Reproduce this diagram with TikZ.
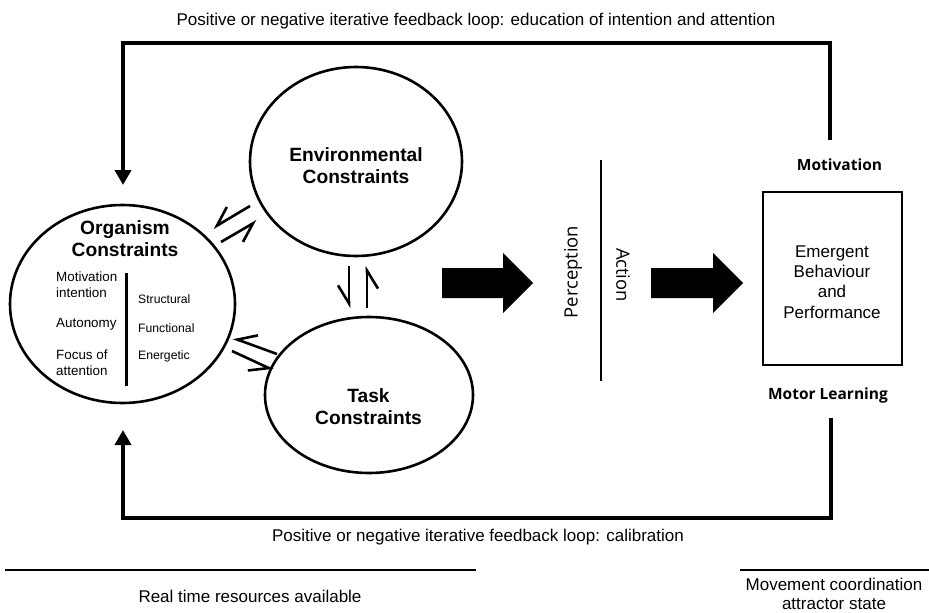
\documentclass[tikz,border=0pt]{standalone}
\usepackage{fontspec}
\setmainfont{Liberation Sans}
\newfontfamily\osans{Open Sans}
\usetikzlibrary{arrows.meta}
\begin{document}
\begin{tikzpicture}[x=1pt,y=-1pt,
  title/.style={font=\fontsize{19.2}{22}\selectfont\bfseries,align=center},
  small/.style={font=\fontsize{13.4}{16}\selectfont,anchor=west,inner sep=0pt},
  smaller/.style={font=\fontsize{12.2}{15}\selectfont,anchor=west,inner sep=0pt},
  lbl/.style={font=\fontsize{17}{19}\selectfont,inner sep=0pt},
  loopar/.style={line width=4pt,-{Triangle[length=15pt,width=16pt]}},
  harp/.style={line width=2.6pt,-{Straight Barb[harpoon,swap,length=18pt,width=22pt]}},
  block/.style={fill=black}
]
\useasboundingbox (0,0) rectangle (929,613);
\fill[white] (0,0) rectangle (929,613);

% circles
\draw[line width=2.6pt] (122.5,304) ellipse [x radius=112.5,y radius=99];
\draw[line width=2.6pt] (356,161.5) ellipse [x radius=106,y radius=94.5];
\draw[line width=2.6pt] (369,395) ellipse [x radius=104,y radius=78];
\node (org) at (122.5,304) {};
\node (env) at (356,161.5) {};
\node (task) at (369,395) {};

% titles
\node[title] (orgt) at (125,239) {Organism\\Constraints};
\node[title] (envt) at (356,166) {Environmental\\Constraints};
\node[title] (taskt) at (368.5,407) {Task\\Constraints};

% organism inner
\draw[line width=2.6pt] (126.5,273) -- (126.5,386);
\node[small] (mot) at (56,277) {Motivation};
\node[small] (int) at (56,293) {intention};
\node[small] (aut) at (56,324) {Autonomy};
\node[small] (foc) at (56,355) {Focus of};
\node[small] (att) at (56,371) {attention};
\node[smaller] (str) at (138,299) {Structural};
\node[smaller] (fun) at (138,328) {Functional};
\node[smaller] (ene) at (138,356) {Energetic};

% harpoons
\coordinate (h1a) at (250,206); \coordinate (h1b) at (213,228);
\coordinate (h2a) at (221,242); \coordinate (h2b) at (257,221);
\coordinate (h3a) at (349,266); \coordinate (h3b) at (349,308);
\coordinate (h4a) at (367,308); \coordinate (h4b) at (367,266);
\coordinate (h5a) at (277,354); \coordinate (h5b) at (233,338);
\coordinate (h6a) at (232,351); \coordinate (h6b) at (273,370);
\draw[harp] (h1a) -- (h1b);
\draw[harp] (h2a) -- (h2b);
\draw[harp] (h3a) -- (h3b);
\draw[harp] (h4a) -- (h4b);
\draw[harp] (h5a) -- (h5b);
\draw[harp] (h6a) -- (h6b);

% block arrows
\fill[block] (442,268) -- (503,268) -- (503,253) -- (533,283) -- (503,313) -- (503,298) -- (442,298) -- cycle;
\fill[block] (651,268) -- (713,268) -- (713,253) -- (743,283) -- (713,313) -- (713,298) -- (651,298) -- cycle;

% perception / action
\draw[line width=2.6pt] (601,160) -- (601,381);
\node[font=\osans\fontsize{18.4}{21}\selectfont,rotate=90] (perc) at (573,272) {Perception};
\node[font=\osans\fontsize{18.4}{21}\selectfont,rotate=-90] (act) at (623,275) {Action};

% box
\node[draw,line width=2.6pt,minimum width=139pt,minimum height=173pt,inner sep=0pt] (box) at (832.5,278.5) {};
\node[font=\fontsize{17}{20.3}\selectfont,align=center] (boxt) at (832,282) {Emergent\\Behaviour\\and\\Performance};
\node[font=\osans\fontsize{15.5}{18}\selectfont\bfseries] (motv) at (839.5,165) {Motivation};
\node[font=\osans\fontsize{15.5}{18}\selectfont\bfseries] (motl) at (828,395) {Motor Learning};

% feedback loops
\coordinate (t1) at (830,140);
\coordinate (t2) at (830,43);
\coordinate (t3) at (123,43);
\coordinate (t4) at (123,185);
\draw[loopar] (t1) -- (t2) -- (t3) -- (t4);
\coordinate (b1) at (831,418);
\coordinate (b2) at (831,518);
\coordinate (b3) at (123,518);
\coordinate (b4) at (123,430);
\draw[loopar] (b1) -- (b2) -- (b3) -- (b4);
\node[lbl] (toplbl) at (476,21) {Positive or negative iterative feedback loop: education of intention and attention};
\node[lbl] (botlbl) at (478,537) {Positive or negative iterative feedback loop: calibration};

% bottom
\draw[line width=2.6pt] (5,570) -- (476,570);
\draw[line width=2.6pt] (740,570) -- (929,570);
\node[lbl] (rt) at (250,596) {Real time resources available};
\node[lbl,align=center] (mc) at (834,594) {Movement coordination\\attractor state};
\end{tikzpicture}
\end{document}
